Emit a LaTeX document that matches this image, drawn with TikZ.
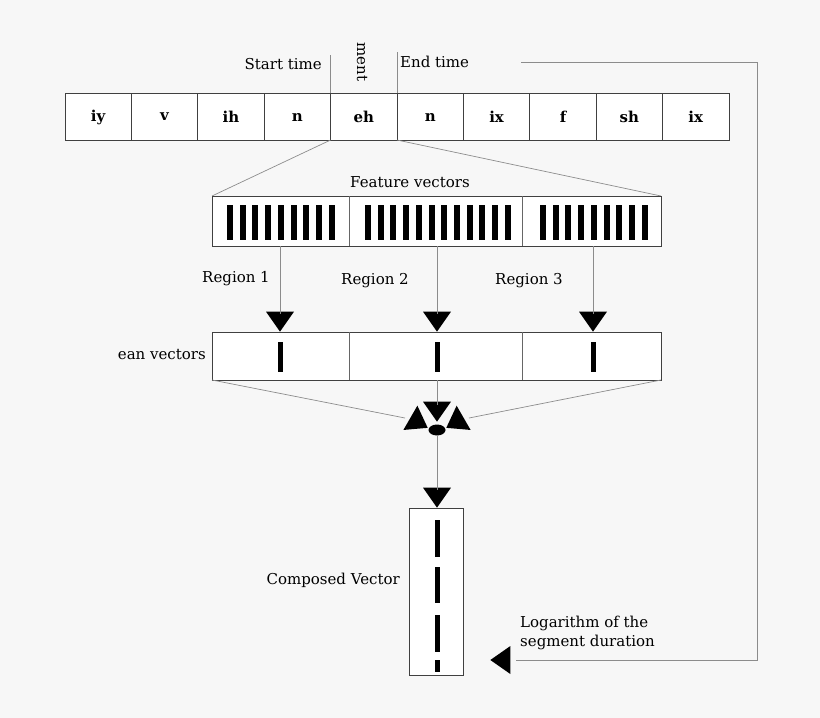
\documentclass[tikz,border=0pt]{standalone}
\usepackage{fontspec}
\setmainfont{DejaVu Serif}
\usetikzlibrary{shapes.geometric}
\begin{document}
\begin{tikzpicture}[x=1pt,y=-1pt,
  txt/.style={font=\fontsize{15}{19}\selectfont, inner sep=0pt},
  box/.style={draw=black!75, line width=0.8pt, fill=white},
  ln/.style={draw=black!45, line width=0.7pt},
  tri/.style={fill=black, draw=none, isosceles triangle, isosceles triangle apex angle=70, minimum width=28pt, minimum height=18pt, inner sep=0pt}]
\useasboundingbox[fill=black!3] (0,0) rectangle (820,718);
% phone boxes
\foreach \t [count=\i from 0] in {iy,v,ih,n,eh,n,ix,f,sh,ix}{
  \pgfmathsetmacro\xa{65+\i*66.4}
  \draw[box] (\xa,93) rectangle ++(66.4,47);
  \node[txt] (p\i) at (\xa+33.2,117) {\bfseries\t};
}
\coordinate (sa) at (330.6,93); \coordinate (sb) at (397,93);
\coordinate (sa1) at (330.6,55); \coordinate (sb1) at (397,52);
\draw[ln] (sa) -- (sa1); \draw[ln] (sb) -- (sb1);
\node[txt, anchor=east] (st) at (322,64) {Start time};
\node[txt, rotate=-90] (ment) at (362,62) {ment};
\node[txt, anchor=west] (et) at (400,62) {End time};
\coordinate (c0) at (521,62); \coordinate (c1) at (757,62); \coordinate (c2) at (757,660); \coordinate (c3) at (516,660);
\draw[ln] (c0) -- (c1) -- (c2) -- (c3);
\node[tri, shape border rotate=180, anchor=apex] (la) at (490,660) {};
\node[txt, anchor=west, align=left] (log) at (520,633) {Logarithm of the\\segment duration};
% feature vectors
\coordinate (fa) at (212,196); \coordinate (fb) at (661,196);
\coordinate (ea) at (330.6,140); \coordinate (eb) at (397,140);
\draw[ln] (ea) -- (fa); \draw[ln] (eb) -- (fb);
\node[txt] (fv) at (410,182) {Feature vectors};
\draw[box] (212,196) rectangle (661,246);
\draw[black!60, line width=0.8pt] (349,196) -- (349,246) (522,196) -- (522,246);
\foreach \s/\n in {227/9, 365/12, 540/9}{
  \foreach \k in {1,...,\n}{
    \fill (\s+\k*12.7-12.7,205) rectangle ++(6,35);
  }
}
% regions
\foreach \x/\r in {280/1,437/2,593/3}{
  \coordinate (r\r) at (\x,246);
  \coordinate (rb\r) at (\x,314);
  \node[tri, shape border rotate=-90, anchor=apex] (ra\r) at (\x,332) {};
  \draw[ln] (r\r) -- (rb\r);
}
\node[txt, anchor=east] (l1) at (270,279) {Region 1};
\node[txt] (l2) at (375,281) {Region 2};
\node[txt] (l3) at (529,281) {Region 3};
% mean vectors
\draw[box] (212,332) rectangle (661,380);
\draw[black!60, line width=0.8pt] (349,332) -- (349,380) (522,332) -- (522,380);
\foreach \x in {280,437,593} \fill (\x-2.5,342) rectangle ++(5,30);
\node[txt, anchor=east] (mv) at (206,354) {ean vectors};
% combination
\node[ellipse, fill=black, minimum width=17pt, minimum height=11pt, inner sep=0pt] (dot) at (437,430) {};
\node[tri, shape border rotate=-90, anchor=apex] (ta) at (437,422) {};
\node[tri, shape border uses incircle, shape border rotate=-30, anchor=apex] (tl) at (428,428) {};
\node[tri, shape border uses incircle, shape border rotate=210, anchor=apex] (tr) at (446,428) {};
\coordinate (ma) at (212,380); \coordinate (mb) at (661,380); \coordinate (mc) at (437,380);
\coordinate (ma2) at (405,418); \coordinate (mb2) at (469,418); \coordinate (mc2) at (437,405);
\draw[ln] (ma) -- (ma2); \draw[ln] (mb) -- (mb2); \draw[ln] (mc) -- (mc2);
\node[tri, shape border rotate=-90, anchor=apex] (cb) at (437,508) {};
\coordinate (cb2) at (437,490);
\draw[ln] (dot) -- (cb2);
% composed vector
\draw[box] (409,508) rectangle (463,675);
\foreach \a/\b in {520/557,567/603,615/652,660/672} \fill (434.5,\a) rectangle (439.5,\b);
\node[txt, anchor=east] (cv) at (400,580) {Composed Vector};
\end{tikzpicture}
\end{document}
